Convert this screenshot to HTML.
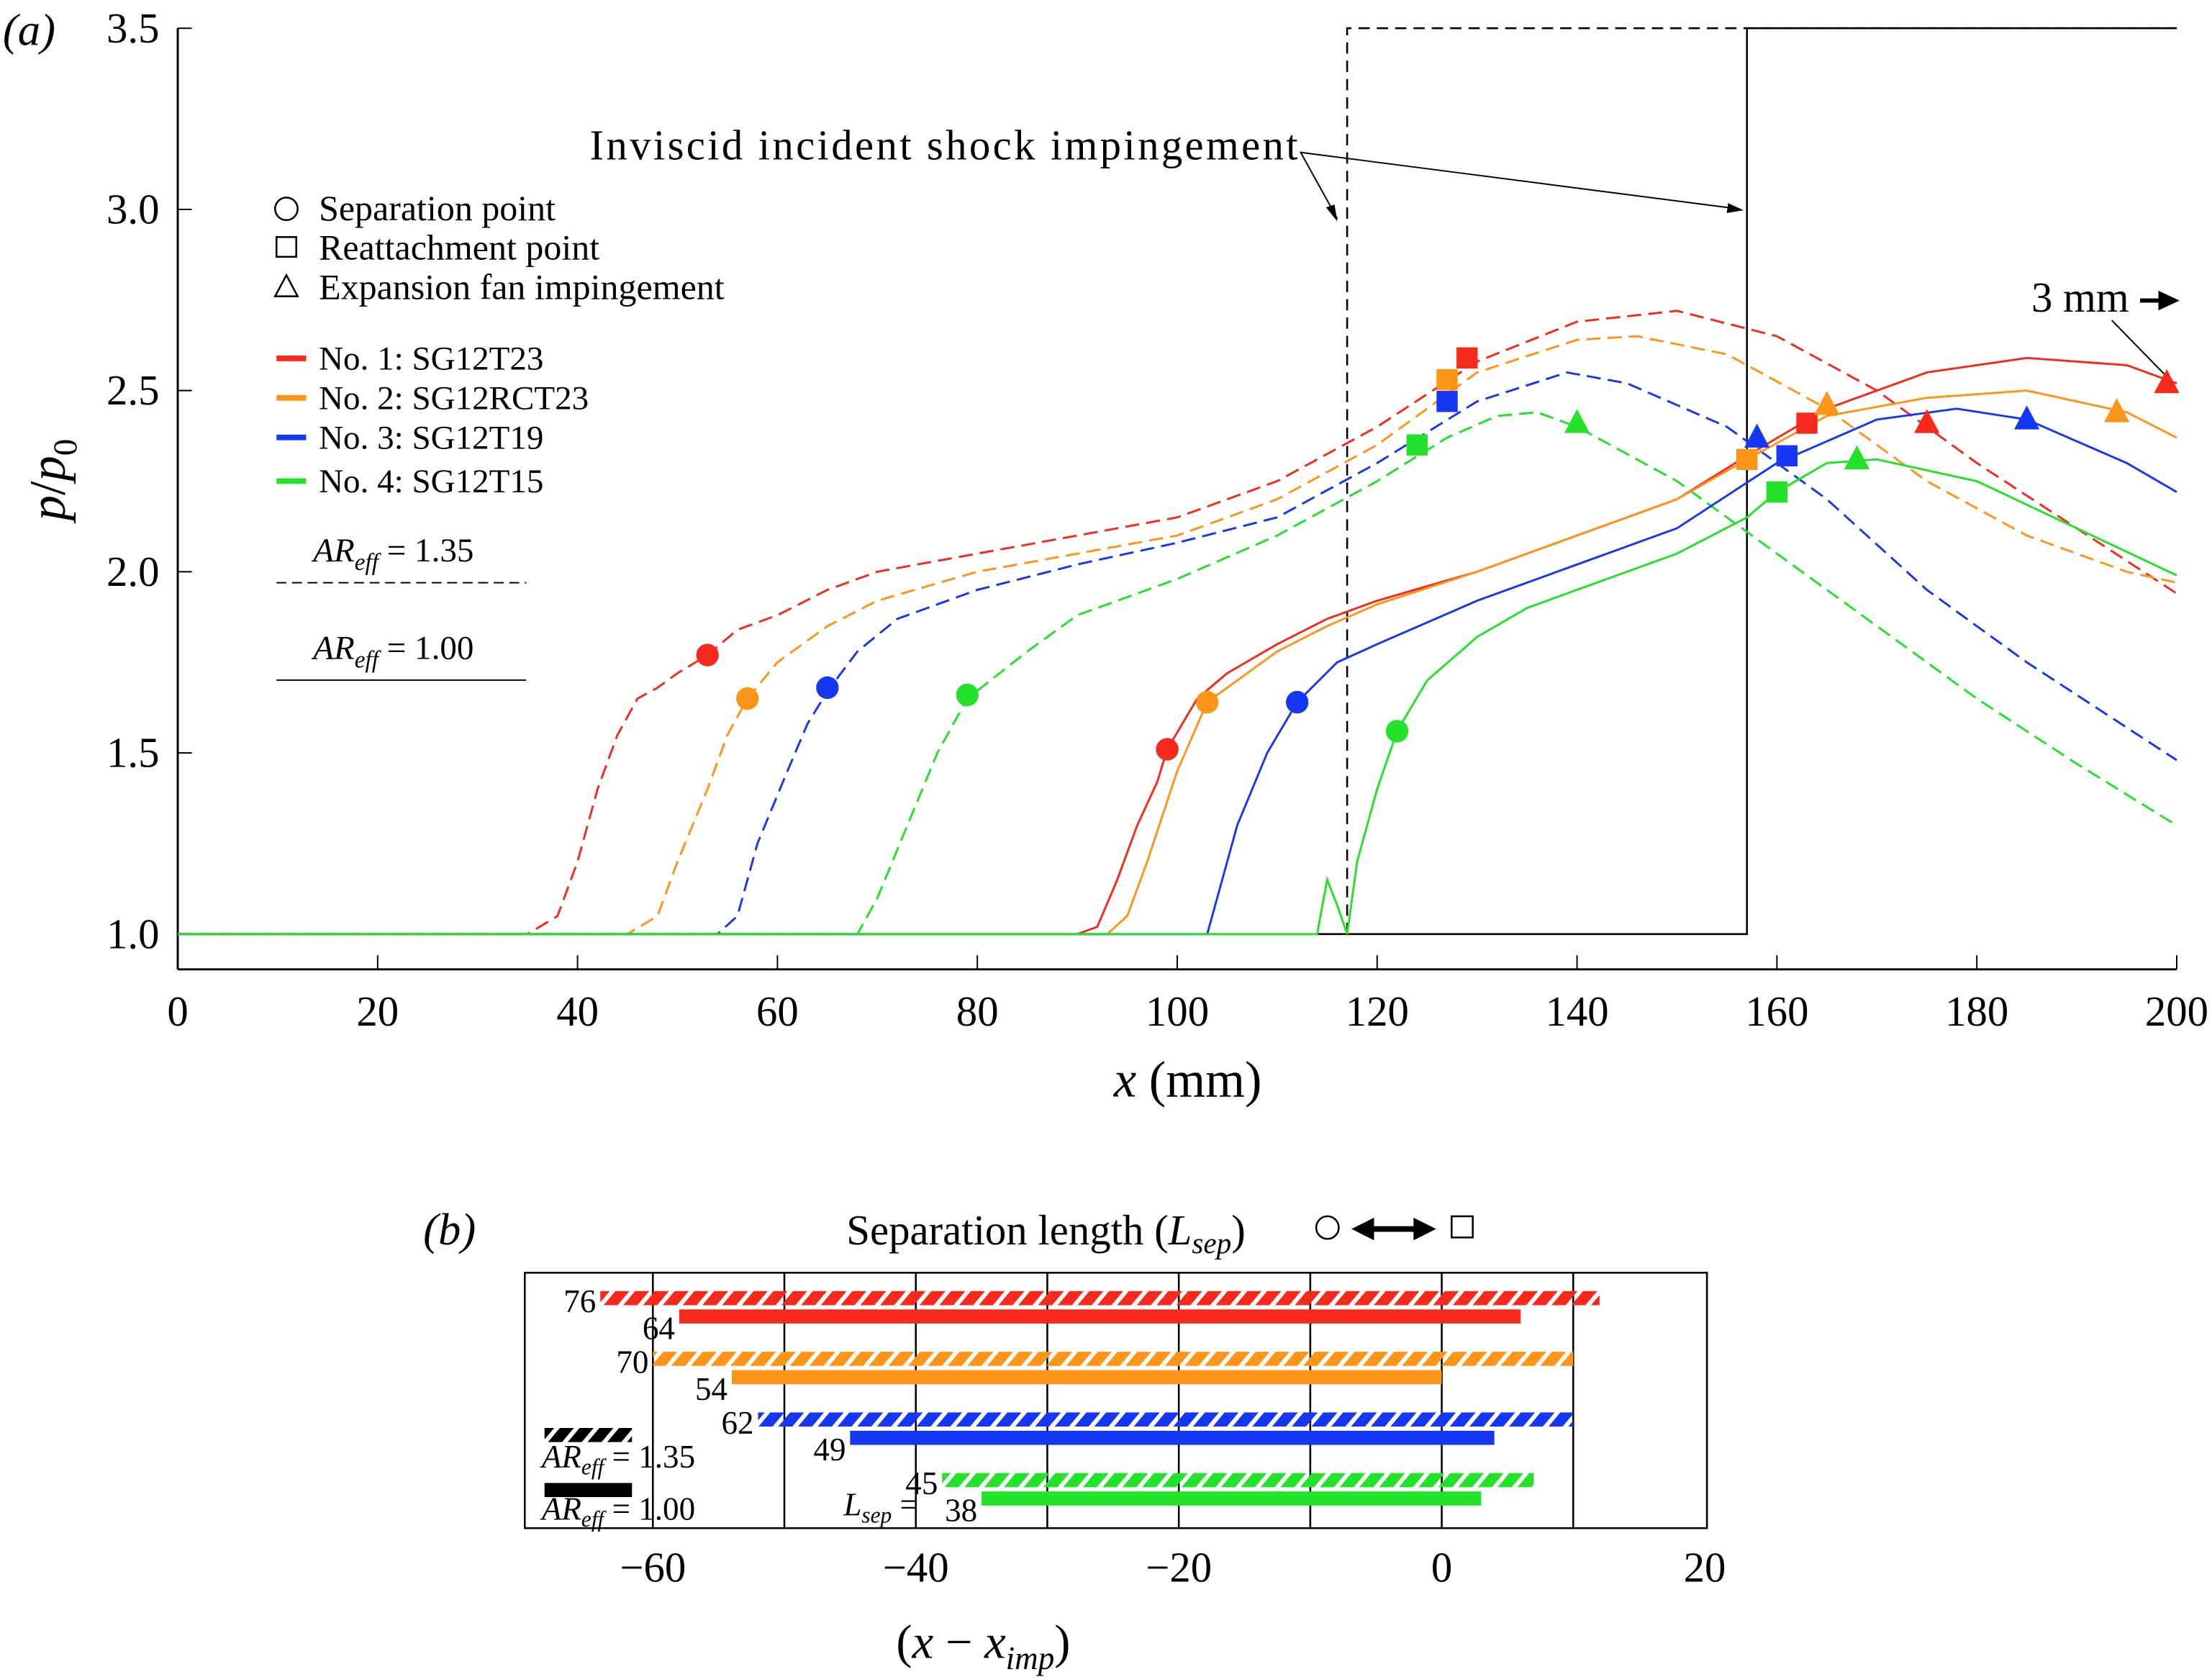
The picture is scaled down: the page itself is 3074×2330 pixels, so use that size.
<!DOCTYPE html>
<html><head><meta charset="utf-8"><style>
html,body{margin:0;padding:0;background:#fff}
svg{display:block;font-family:"Liberation Serif",serif}
</style></head><body>
<svg id="fig" width="3074" height="2330" viewBox="0 0 1568 1188.5" xmlns="http://www.w3.org/2000/svg">
<defs id="defs"></defs>
<g id="pa"></g>
<g id="pb"></g>
</svg>
<script>
const xs = [0,35,38,40,42,44,46,48,50,53,56,60,65,70,80,90,100,110,120,130,140,150,160,170,180,190,200];
const redDash = [1,1,1.05,1.2,1.4,1.55,1.65,1.68,1.72,1.77,1.84,1.88,1.95,2.0,2.05,2.1,2.15,2.25,2.4,2.58,2.69,2.72,2.65,2.5,2.3,2.12,1.94];
const orX = [0,45,48,50,53,55,57,60,65,70,80,90,100,110,120,130,140,146,155,165,175,185,195,200];
const orDash = [1,1,1.05,1.2,1.4,1.55,1.65,1.75,1.85,1.92,2.0,2.05,2.1,2.2,2.35,2.55,2.64,2.65,2.6,2.45,2.25,2.1,2.0,1.97];
const blX = [0,54,56,58,61,63,65,68,72,80,90,100,110,120,130,139,145,155,165,175,185,195,200];
const blDash = [1,1,1.05,1.25,1.45,1.58,1.67,1.78,1.87,1.95,2.02,2.08,2.15,2.3,2.47,2.55,2.52,2.4,2.2,1.95,1.75,1.57,1.48];
const grX = [0,68,70,73,76,79,85,90,100,110,120,127,132,136,140,150,160,170,180,190,200];
const grDash = [1,1,1.1,1.3,1.5,1.65,1.78,1.88,1.98,2.1,2.25,2.37,2.43,2.44,2.4,2.25,2.05,1.85,1.65,1.47,1.3];
const rsX = [0,90,92,94,96,98,99,102,105,110,115,120,130,140,150,157,165,175,185,195,200];
const redSol = [1,1,1.02,1.15,1.3,1.42,1.51,1.65,1.72,1.8,1.87,1.92,2.0,2.1,2.2,2.32,2.45,2.55,2.59,2.57,2.52];
const osX = [0,93,95,97,100,103,106,110,115,120,130,140,150,157,165,175,185,195,200];
const orSol = [1,1,1.05,1.2,1.45,1.64,1.7,1.78,1.85,1.91,2.0,2.1,2.2,2.31,2.43,2.48,2.5,2.44,2.37];
const bsX = [0,103,104,106,109,112,116,120,130,140,150,160,170,178,185,195,200];
const blSol = [1,1,1.1,1.3,1.5,1.64,1.75,1.8,1.92,2.02,2.12,2.3,2.42,2.45,2.42,2.3,2.22];
const gsX = [0,114,115,116,117,118,120,122,125,130,135,140,150,157,160,165,170,180,190,200];
const grSol = [1,1,1.15,1.08,1.0,1.2,1.4,1.56,1.7,1.82,1.9,1.95,2.05,2.15,2.22,2.3,2.31,2.25,2.12,1.99];
const circX = [53,57,65,79,99,103,112,122];
const circY = [1.77,1.65,1.68,1.66,1.51,1.64,1.64,1.56];
const sqX = [129,127,127,124,163,157,161,160];
const sqY = [2.59,2.53,2.47,2.35,2.41,2.31,2.32,2.22];
const triX = [175,165,158,140,199,194,185,168];
const triY = [2.41,2.46,2.37,2.41,2.52,2.44,2.42,2.31];
const xTicks = [0,20,40,60,80,100,120,140,160,180,200];
const yTicks = [1.0,1.5,2.0,2.5,3.0,3.5];
const sepStartDash = [-64,-60,-52,-38];
const sepEndDash = [12,10,10,7];
const sepStartSol = [-58,-54,-45,-35];
const sepEndSol = [6,0,4,3];
const sepLabDash = [76,70,62,45];
const sepLabSol = [64,54,49,38];
const bTicks = [-60,-40,-20,0,20];
const bGrid = [-60,-50,-40,-30,-20,-10,0,10];
const colors = ['#f52a1c','#ff9518','#1637f2','#22e22a'];
const names = ['No. 1: SG12T23','No. 2: SG12RCT23','No. 3: SG12T19','No. 4: SG12T15'];

const NS='http://www.w3.org/2000/svg';
function mk(tag,attrs,parent,text){const e=document.createElementNS(NS,tag);for(const k in attrs)e.setAttribute(k,attrs[k]);if(text!==undefined)e.textContent=text;parent.appendChild(e);return e;}
const X=v=>126+v*7.085, Y=v=>662-(v-1)*256.8;
const pa=document.getElementById('pa'), pb=document.getElementById('pb'), defs=document.getElementById('defs');
colors.concat(['#000']).forEach((c,i)=>{const p=mk('pattern',{id:'hatch'+i,patternUnits:'userSpaceOnUse',width:14,height:14,patternTransform:'skewX(-40)'},defs);
 mk('rect',{width:10,height:14,fill:c},p);});

let e=mk('line',{x1:126,y1:20,x2:126,y2:687,stroke:'#000','stroke-width':1.5},pa);

e=mk('line',{x1:126,y1:687,x2:1543,y2:687,stroke:'#000','stroke-width':1.5},pa);

xTicks.forEach(t=>{mk('line',{x1:X(t),y1:687,x2:X(t),y2:677,stroke:'#000'},pa);
 e=mk('text',{x:X(t),y:727,'font-size':30,'text-anchor':'middle'},pa,String(t));
 });
yTicks.forEach(t=>{mk('line',{x1:126,y1:Y(t),x2:136,y2:Y(t),stroke:'#000'},pa);
 e=mk('text',{x:113,y:Y(t)+10,'font-size':30,'text-anchor':'end'},pa,t.toFixed(1));
 });
e=mk('text',{x:842,y:777,'font-size':36,'text-anchor':'middle'},pa);e.innerHTML='<tspan font-style="italic">x</tspan> (mm)';

e=mk('text',{x:0,y:0,'font-size':36,'text-anchor':'middle',transform:'translate(46,340) rotate(-90)'},pa);e.innerHTML='<tspan font-style="italic">p</tspan>/<tspan font-style="italic">p</tspan><tspan font-size="24" dy="8">0</tspan>';

e=mk('text',{x:2,y:32,'font-size':32,'font-style':'italic'},pa,'(a)');


e=mk('polyline',{points:`${X(117)},662 ${X(117)},20 1543,20`,fill:'none',stroke:'#000','stroke-width':1.3,'stroke-dasharray':'8,5'},pa);

e=mk('polyline',{points:`126,662 ${X(157)},662 ${X(157)},20 1543,20`,fill:'none',stroke:'#000','stroke-width':1.3},pa);

e=mk('text',{x:418,y:113,'font-size':30,textLength:502},pa,'Inviscid incident shock impingement');

mk('polyline',{points:'948,155 922,108 1232,148',fill:'none',stroke:'#000'},pa);
mk('polygon',{points:'948,157 940,147 946,145',fill:'#000'},pa);
mk('polygon',{points:'1236,149 1225,144 1224,151',fill:'#000'},pa);
e=mk('text',{x:1440,y:221,'font-size':30},pa,'3 mm');

mk('line',{x1:1517,y1:213,x2:1533,y2:213,stroke:'#000','stroke-width':3},pa);
mk('polygon',{points:'1545,213 1530,206 1530,220',fill:'#000'},pa);
mk('line',{x1:1497,y1:227,x2:1535,y2:266,stroke:'#000'},pa);

const series=[[xs,redDash,0,1],[orX,orDash,1,1],[blX,blDash,2,1],[grX,grDash,3,1],[rsX,redSol,0,0],[osX,orSol,1,0],[bsX,blSol,2,0],[gsX,grSol,3,0]];
series.forEach(([sx,sy,c,d])=>{
 const pts=sx.map((v,j)=>X(v)+','+Y(sy[j])).join(' ');
 e=mk('polyline',{points:pts,fill:'none',stroke:colors[c],'stroke-width':1.5},pa);
 if(d)e.setAttribute('stroke-dasharray','10,5');
 
});
circX.forEach((v,i)=>{e=mk('circle',{cx:X(v),cy:Y(circY[i]),r:8,fill:colors[i%4]},pa);
 });
sqX.forEach((v,i)=>{e=mk('rect',{x:X(v)-7.5,y:Y(sqY[i])-7.5,width:15,height:15,fill:colors[i%4]},pa);
 });
triX.forEach((v,i)=>{const cx=X(v),cy=Y(triY[i]);e=mk('polygon',{points:`${cx},${cy-10} ${cx-9},${cy+7} ${cx+9},${cy+7}`,fill:colors[i%4]},pa);
 });

const lg=mk('g',{},pa);
mk('circle',{cx:203,cy:148,r:8,fill:'none',stroke:'#000','stroke-width':1.3},lg);
mk('rect',{x:196,y:168,width:14,height:14,fill:'none',stroke:'#000','stroke-width':1.3},lg);
mk('polygon',{points:'203,195 195,210 211,210',fill:'none',stroke:'#000','stroke-width':1.3},lg);
['Separation point','Reattachment point','Expansion fan impingement'].forEach((t,i)=>{e=mk('text',{x:226,y:156+i*28,'font-size':25.5},lg,t);
 });
names.forEach((t,i)=>{const y=[254,282,310,341][i];mk('line',{x1:196,y1:y,x2:217,y2:y,stroke:colors[i],'stroke-width':4},lg);
 e=mk('text',{x:226,y:y+8,'font-size':24},lg,t);});
e=mk('text',{x:222,y:398,'font-size':24},lg);e.innerHTML='<tspan font-style="italic">AR<tspan font-size="17" dy="6">eff</tspan></tspan><tspan dy="-6"> = 1.35</tspan>';
mk('line',{x1:196,y1:413,x2:373,y2:413,stroke:'#000','stroke-dasharray':'7,4'},lg);
e=mk('text',{x:222,y:467,'font-size':24},lg);e.innerHTML='<tspan font-style="italic">AR<tspan font-size="17" dy="6">eff</tspan></tspan><tspan dy="-6"> = 1.00</tspan>';
mk('line',{x1:196,y1:482,x2:373,y2:482,stroke:'#000'},lg);

const XB=v=>1022+v*9.32;
e=mk('text',{x:300,y:882,'font-size':32,'font-style':'italic'},pb,'(b)');

e=mk('text',{x:600,y:882,'font-size':30},pb);e.innerHTML='Separation length (<tspan font-style="italic">L<tspan font-size="21" dy="6">sep</tspan></tspan><tspan dy="-6">)</tspan>';

mk('circle',{cx:941,cy:870,r:8,fill:'none',stroke:'#000','stroke-width':1.3},pb);
mk('line',{x1:970,y1:871,x2:1006,y2:871,stroke:'#000','stroke-width':4},pb);
mk('polygon',{points:'958,871 974,863 974,879',fill:'#000'},pb);
mk('polygon',{points:'1018,871 1002,863 1002,879',fill:'#000'},pb);
mk('rect',{x:1029,y:862,width:15,height:15,fill:'none',stroke:'#000','stroke-width':1.3},pb);
e=mk('rect',{x:372,y:902,width:838,height:181,fill:'none',stroke:'#000','stroke-width':1.3},pb);

bGrid.forEach(t=>mk('line',{x1:XB(t),y1:902,x2:XB(t),y2:1083,stroke:'#000','stroke-width':1.3},pb));
bTicks.forEach(t=>{e=mk('text',{x:XB(t),y:1121,'font-size':30,'text-anchor':'middle'},pb,(t<0?'\u2212':'')+Math.abs(t));
 });
e=mk('text',{x:697,y:1175,'font-size':34,'text-anchor':'middle'},pb);e.innerHTML='(<tspan font-style="italic">x</tspan> − <tspan font-style="italic">x<tspan font-size="23" dy="8">imp</tspan></tspan><tspan dy="-8">)</tspan>';

for(let i=0;i<4;i++){
 const yd=915+i*43, ys=928+i*43;
 e=mk('rect',{x:XB(sepStartDash[i]),y:yd,width:XB(sepEndDash[i])-XB(sepStartDash[i]),height:10,fill:'url(#hatch'+i+')'},pb);
 
 e=mk('rect',{x:XB(sepStartSol[i]),y:ys,width:XB(sepEndSol[i])-XB(sepStartSol[i]),height:10,fill:colors[i]},pb);
 
 e=mk('text',{x:XB(sepStartDash[i])-3,y:yd+15,'font-size':23,'text-anchor':'end'},pb,String(sepLabDash[i]));
 
 e=mk('text',{x:XB(sepStartSol[i])-3,y:ys+21,'font-size':23,'text-anchor':'end'},pb,String(sepLabSol[i]));
 
}
e=mk('text',{x:598,y:1074,'font-size':23,'font-style':'italic'},pb);e.innerHTML='L<tspan font-size="16" dy="5">sep</tspan><tspan dy="-5" font-style="normal"> =</tspan>';
const bl=mk('g',{},pb);
mk('rect',{x:386,y:1012,width:62,height:10,fill:'url(#hatch4)'},bl);
mk('text',{x:384,y:1040,'font-size':23},bl).innerHTML='<tspan font-style="italic">AR<tspan font-size="16" dy="5">eff</tspan></tspan><tspan dy="-5"> = 1.35</tspan>';
mk('rect',{x:386,y:1051,width:62,height:10,fill:'#000'},bl);
mk('text',{x:384,y:1077,'font-size':23},bl).innerHTML='<tspan font-style="italic">AR<tspan font-size="16" dy="5">eff</tspan></tspan><tspan dy="-5"> = 1.00</tspan>';
</script>
</body></html>
